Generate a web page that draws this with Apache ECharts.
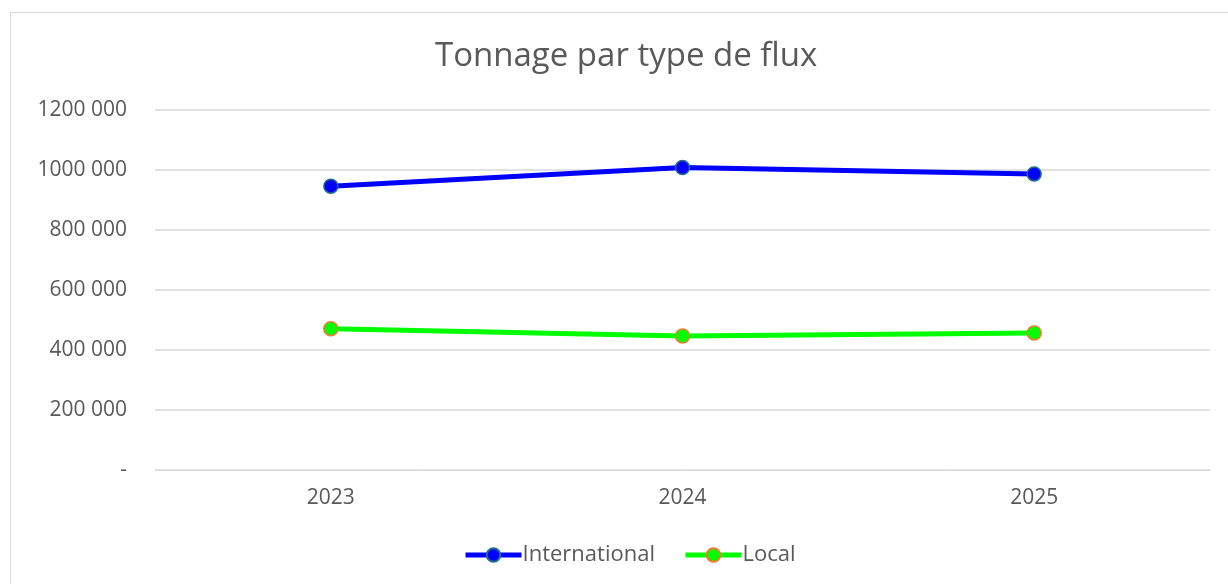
<!DOCTYPE html>
<html>
<head>
<meta charset="utf-8">
<script src="https://cdn.jsdelivr.net/npm/echarts@6/dist/echarts.min.js"></script>
<style>
  html, body { margin: 0; padding: 0; background: #fff; }
  #wrap { position: absolute; left: 10px; top: 12px; width: 1228px; height: 580px; border: 1px solid #d9d9d9; box-sizing: border-box; }
  #chart { position: absolute; left: 0; top: 0; width: 1228px; height: 584px; }
</style>
</head>
<body>
<div id="wrap"></div>
<div id="chart"></div>
<script>
var years = ['2023', '2024', '2025'];
var international = [946000, 1008000, 987000];
var local = [471000, 447000, 457000];

var chart = echarts.init(document.getElementById('chart'));

function fmt(v) {
    if (v === 0) return '-';
    var s = String(v);
    // grouping only on the last 3 digits, like the source
    return s.slice(0, s.length - 3) + ' ' + s.slice(-3);
}

var font = 'Open Sans';

var option = {
    backgroundColor: 'transparent',
    animation: false,
    title: {
        text: 'Tonnage par type de flux',
        left: 430,
        top: 35,
        textStyle: { fontFamily: font, fontWeight: 'normal', fontSize: 33, color: '#595959' }
    },
    legend: {
        bottom: 13,
        left: 458,
        itemWidth: 56,
        itemHeight: 17,
        itemGap: 28,
        lineStyle: { width: 5, cap: 'butt' },
        textStyle: { fontFamily: font, fontSize: 22, color: '#595959', padding: [0, 0, 0, -4] },
        data: ['International', 'Local']
    },
    grid: { left: 155, right: 18, top: 110, bottom: 114 },
    xAxis: {
        type: 'category',
        data: years,
        boundaryGap: true,
        axisLine: { lineStyle: { color: '#d9d9d9', width: 1 } },
        axisTick: { show: false },
        axisLabel: { fontFamily: font, fontSize: 21, color: '#595959', margin: 18 }
    },
    yAxis: {
        type: 'value',
        min: 0,
        max: 1200000,
        interval: 200000,
        axisLine: { show: false },
        axisTick: { show: false },
        splitLine: { lineStyle: { color: '#d9d9d9', width: 1.5 } },
        axisLabel: { fontFamily: font, fontSize: 21, color: '#595959', margin: 28, formatter: fmt }
    },
    series: [
        {
            name: 'International',
            type: 'line',
            data: international,
            symbol: 'circle',
            symbolSize: 14,
            lineStyle: { color: '#0000ff', width: 5, cap: 'round' },
            itemStyle: { color: '#0000ff', borderColor: '#1f6f8b', borderWidth: 1.5 }
        },
        {
            name: 'Local',
            type: 'line',
            data: local,
            symbol: 'circle',
            symbolSize: 14,
            lineStyle: { color: '#00ff00', width: 5, cap: 'round' },
            itemStyle: { color: '#00ff00', borderColor: '#ed7d31', borderWidth: 1.5 }
        }
    ]
};
chart.setOption(option);
</script>
</body>
</html>
